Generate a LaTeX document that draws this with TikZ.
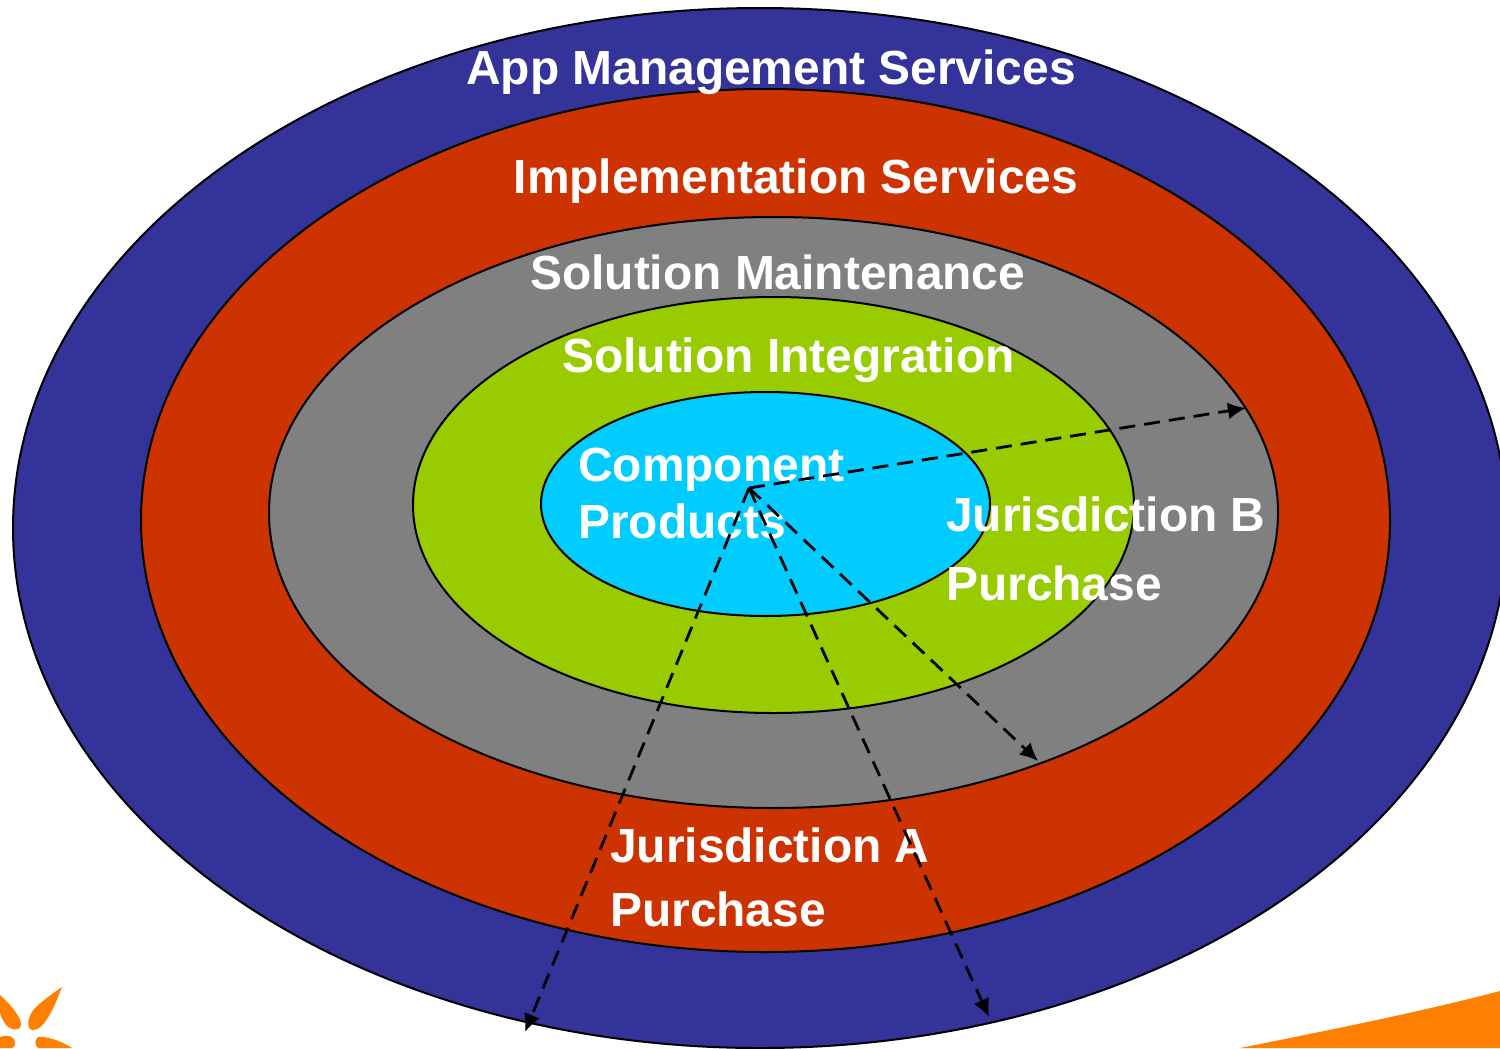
\documentclass[tikz,border=0pt]{standalone}
\usepackage{xcolor}
\usepackage{fontspec}
\usepackage{tikz}
\usetikzlibrary{shapes.geometric, arrows.meta}
\setmainfont{Liberation Sans}

\definecolor{appblue}{HTML}{333399}
\definecolor{implred}{HTML}{CC3300}
\definecolor{maintgray}{HTML}{808080}
\definecolor{integgreen}{HTML}{99CC00}
\definecolor{compblue}{HTML}{00CCFF}
\definecolor{logoorange}{HTML}{FF7F00}

\tikzset{
    ring/.style={draw, ellipse, inner sep = 0pt, line width = 0.2mm},
    ringlabel/.style={text=white, inner sep = 0pt, align = left, font=\fontsize{13.62}{16.2}\selectfont\bfseries},
    radius/.style={-{Latex[length=1.8mm, width=1.7mm]}, dash pattern=on 1.6mm off 0.9mm, line width = 0.28mm}
}

\begin{document}
\begin{tikzpicture}[x=0.01cm, y=-0.01cm]
        \clip (0,0) rectangle (1500,1048);
        \fill[white] (0,0) rectangle (1500,1048);

        % Logo and swoosh in the corners
        \fill[logoorange] (62,987) .. controls (55,1005) and (45,1030) .. (33,1030) .. controls (25,1030) and (28,1015) .. (35,1008) .. controls (42,1001) and (52,994) .. (62,987) -- cycle;
        \fill[logoorange] (0,995) .. controls (10,1004) and (22,1018) .. (21,1025) .. controls (20,1032) and (10,1030) .. (6,1025) .. controls (3,1020) and (0,1016) .. (0,1012) -- cycle;
        \fill[logoorange] (0,1037) .. controls (8,1034) and (16,1037) .. (15,1043) .. controls (15,1046) and (14,1048) .. (12,1048) -- (0,1048) -- cycle;
        \fill[logoorange] (72,1048) .. controls (60,1040) and (45,1036) .. (38,1037) .. controls (34,1040) and (35,1046) .. (38,1048) -- cycle;
        \fill[logoorange] (1240,1048) .. controls (1330,1030) and (1420,1012) .. (1500,991) -- (1500,1048) -- cycle;

        % Concentric rings
        \node[ring, fill=appblue, minimum width = 1494*0.01cm, minimum height = 1040*0.01cm] (app) at (760,528) {};
        \node[ring, fill=implred, minimum width = 1249*0.01cm, minimum height = 863*0.01cm] (impl) at (765.5,520.5) {};
        \node[ring, fill=maintgray, minimum width = 1009*0.01cm, minimum height = 591*0.01cm] (maint) at (773.5,512.5) {};
        \node[ring, fill=integgreen, minimum width = 721*0.01cm, minimum height = 416*0.01cm] (integ) at (773.5,505) {};
        \node[ring, fill=compblue, minimum width = 449*0.01cm, minimum height = 224*0.01cm] (comp) at (765.5,504) {};

        % Labels
        \node[ringlabel, anchor=base west] (applabel) at (465.5,84) {App Management Services};
        \node[ringlabel, anchor=base west] (impllabel) at (513,193) {Implementation Services};
        \node[ringlabel, anchor=base west] (maintlabel) at (529.5,289) {Solution Maintenance};
        \node[ringlabel, anchor=base west] (integlabel) at (561.5,372) {Solution Integration};
        \node[ringlabel, anchor=south west] (complabel) at (577.5,539.5) {Component\\Products};
        \node[ringlabel, anchor=south west] (jurb) at (945.5,601.5) {Jurisdiction B\\[3.4pt]Purchase};
        \node[ringlabel, anchor=south west] (jura) at (609.5,927.5) {Jurisdiction A\\[2pt]Purchase};

        % Arrow ends
        \coordinate (hub) at (749,488);
        \coordinate (endb) at (1246,408);
        \coordinate (endc) at (1038,761);
        \coordinate (endd) at (989,1017);
        \coordinate (enda) at (525,1032);

        % Dashed arrows
        \draw[radius] (hub) -- (endb);
        \draw[radius] (hub) -- (endc);
        \draw[radius] (hub) -- (endd);
        \draw[radius] (hub) -- (enda);
\end{tikzpicture}
\end{document}
